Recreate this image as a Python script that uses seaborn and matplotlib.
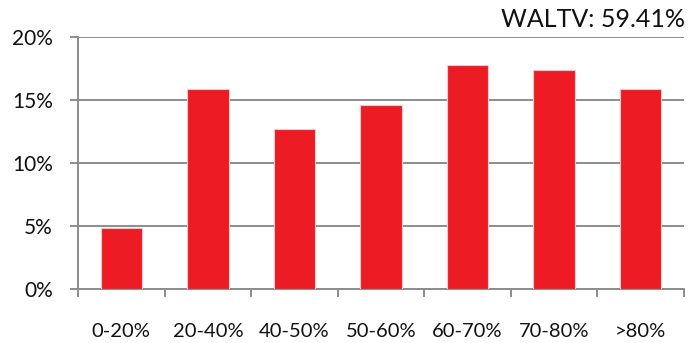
import matplotlib
matplotlib.use("Agg")
import matplotlib.pyplot as plt
import seaborn as sns
import pandas as pd
import numpy as np
from matplotlib.ticker import FuncFormatter, FixedLocator

categories = ["0-20%", "20-40%", "40-50%", "50-60%", "60-70%", "70-80%", ">80%"]
shares = [4.9, 15.9, 12.7, 14.6, 17.8, 17.4, 15.9]
y_ticks = [0, 5, 10, 15, 20]
title_text = "WALTV: 59.41%"

sns.set_theme(style="white")
plt.rcParams["font.family"] = ["Lato", "DejaVu Sans"]

df = pd.DataFrame({"cat": categories, "share": shares})

fig = plt.figure(figsize=(6.93, 3.43), dpi=100)
ax = fig.add_axes([78/693, 1-289.3/343, (684-78)/693, (289.3-37.3)/343])

sns.barplot(data=df, x="cat", y="share", color="#ED1C24", saturation=1,
            width=0.48, edgecolor="#f6c9cb", linewidth=0.8, ax=ax, zorder=3)

ax.set_xlim(-0.5, len(categories) - 0.5)
ax.set_ylim(0, 20)
ax.set_yticks(y_ticks)
ax.yaxis.set_major_formatter(FuncFormatter(lambda v, p: f"{v:.0f}%"))
ax.grid(axis="y", color="#8c8c8c", linewidth=1.4, zorder=0)
ax.grid(axis="x", visible=False)
ax.set_xlabel("")
ax.set_ylabel("")

for s in ["top", "right"]:
    ax.spines[s].set_visible(False)
for s in ["left", "bottom"]:
    ax.spines[s].set_color("#8c8c8c")
    ax.spines[s].set_linewidth(1.4)

ax.tick_params(axis="y", which="major", direction="out", length=6, width=1.4,
               color="#8c8c8c", left=True, pad=12, labelsize=15, labelcolor="#111111")
ax.tick_params(axis="x", which="major", length=0, pad=24, labelsize=14.5, labelcolor="#111111")
ax.xaxis.set_minor_locator(FixedLocator(np.arange(-0.5, len(categories), 1.0)))
ax.tick_params(axis="x", which="minor", direction="out", length=6, width=1.4,
               color="#8c8c8c", bottom=True)

fig.text(0.988, 1-27/343, title_text, ha="right", va="baseline",
         fontsize=18, color="#111111")

fig.savefig("out.png", dpi=100)
